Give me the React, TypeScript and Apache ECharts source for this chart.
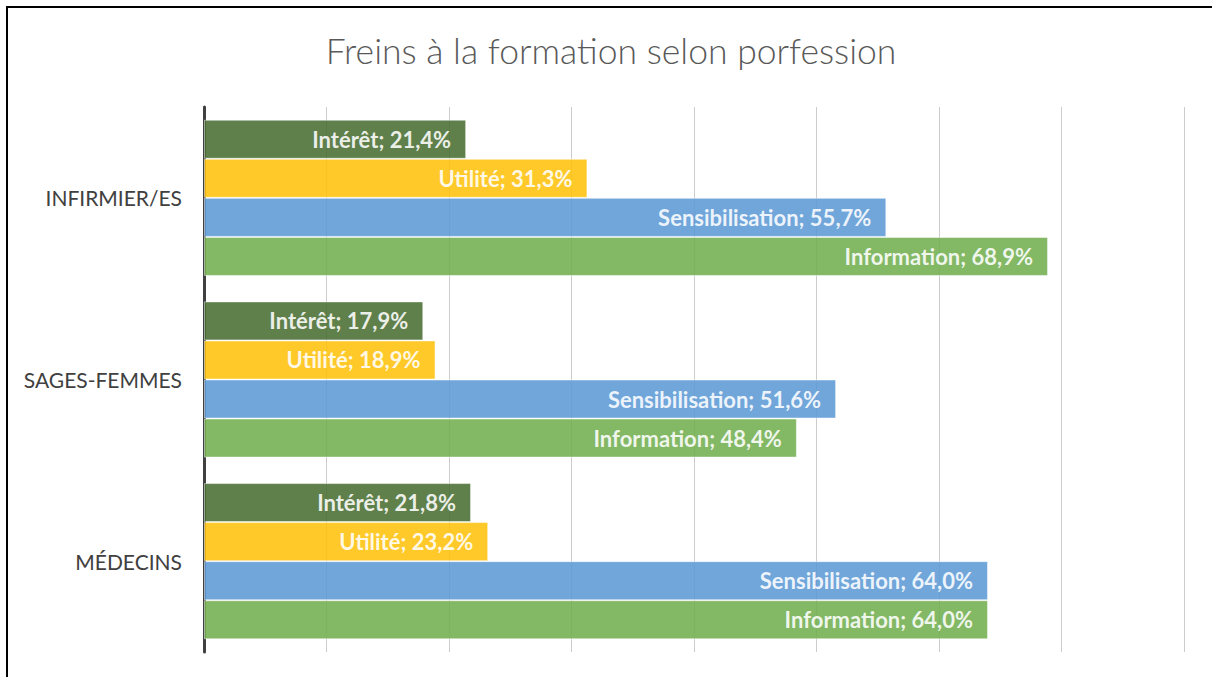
import React, { useEffect, useRef } from "react";
import * as echarts from "echarts";

const categories = ["INFIRMIER/ES", "SAGES-FEMMES", "MÉDECINS"];
const seriesNames = ["Intérêt", "Utilité", "Sensibilisation", "Information"];
const interet = [21.4, 17.9, 21.8];
const utilite = [31.3, 18.9, 23.2];
const sensibilisation = [55.7, 51.6, 64.0];
const information = [68.9, 48.4, 64.0];
const seriesValues = [interet, utilite, sensibilisation, information];
const seriesColors = ["rgb(74,110,50)", "rgb(255,193,11)", "rgb(92,154,213)", "rgb(114,174,80)"];

const FONT = "Lato, 'Open Sans', sans-serif";

export default function App() {
  const ref = useRef<HTMLDivElement>(null);
  useEffect(() => {
    if (!ref.current) return;
    const chart = echarts.init(ref.current, null, { renderer: "svg" });
    chart.setOption({
      animation: false,
      backgroundColor: "#ffffff",
      title: {
        text: "Freins à la formation selon porfession",
        left: 606,
        top: 27,
        textAlign: "center",
        textStyle: { fontFamily: FONT, fontWeight: 300, fontSize: 35.5, color: "#595959" },
      },
      graphic: [
        { type: "line", shape: { x1: 7, y1: 6, x2: 7, y2: 677 }, style: { stroke: "#000", lineWidth: 2 } },
        { type: "line", shape: { x1: 6, y1: 7, x2: 1212, y2: 7 }, style: { stroke: "#000", lineWidth: 2 } },
      ],
      grid: { left: 204, right: 28, top: 107, bottom: 25, containLabel: false },
      xAxis: {
        type: "value",
        min: 0,
        max: 80,
        interval: 10,
        axisLabel: { show: false },
        axisLine: { show: false },
        axisTick: { show: false },
        splitLine: { show: true, lineStyle: { color: "#cccccc", width: 1 } },
      },
      yAxis: {
        type: "category",
        data: categories,
        inverse: true,
        axisTick: { show: false },
        axisLine: { show: true, lineStyle: { color: "#404040", width: 3 } },
        axisLabel: { fontFamily: FONT, fontSize: 21, color: "#404040", margin: 22 },
      },
      series: seriesNames.map((name, i) => ({
        type: "bar",
        name,
        data: seriesValues[i],
        barGap: "0%",
        barCategoryGap: "14%",
        itemStyle: {
          color: seriesColors[i],
          opacity: 0.88,
          borderColor: "rgba(255,255,255,0.55)",
          borderWidth: 1,
        },
        label: {
          show: true,
          position: "insideRight",
          distance: 15,
          color: "#ffffff",
          fontFamily: FONT,
          fontWeight: "bold",
          fontSize: 22,
          formatter: (p: any) => `${p.seriesName}; ${Number(p.value).toFixed(1).replace(".", ",")}%`,
        },
      })),
    });
    return () => chart.dispose();
  }, []);
  return (
    <div
      ref={ref}
      style={{ position: "fixed", left: 0, top: 0, width: 1212, height: 677 }}
    />
  );
}
